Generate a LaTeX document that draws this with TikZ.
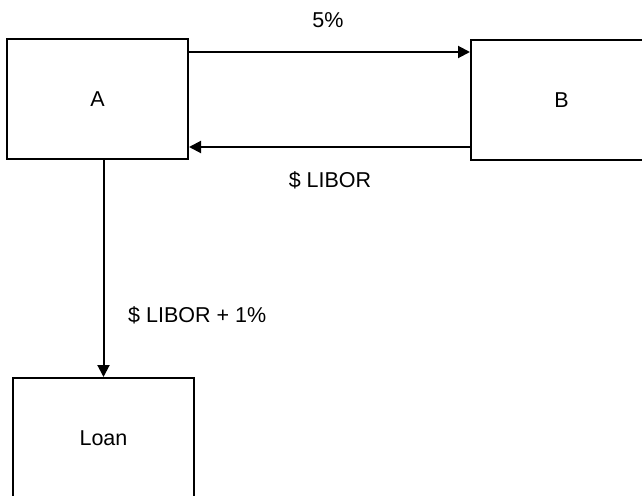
\documentclass[tikz,border=0pt]{standalone}
\usepackage{fontspec}
\setmainfont{Liberation Sans}
\usetikzlibrary{positioning}
\usetikzlibrary{arrows.meta}
\tikzset{party/.style={draw, line width=2pt, minimum width=181pt, minimum height=120pt, inner sep=0pt, font=\fontsize{21.5}{25}\selectfont},
	flow/.style={line width=2pt, -{Triangle[length=12pt,width=12pt]}},
	rate/.style={font=\fontsize{21.5}{25}\selectfont, inner sep=0pt}}
\begin{document}
\begin{tikzpicture}[x=1pt, y=-1pt]
	\useasboundingbox (0,0) rectangle (642,495);
	
	% the three parties
	\node[party] (A) at (97.5,99) {A};
	\node[party] (B) at (561.5,100) {B};
	\node[party] (Loan) at (103.5,438) {Loan};
	
	% swap payments
	\draw[flow] ([yshift=47pt]A.east) -- ([yshift=47pt]A.east -| B.west);
	\draw[flow] ([yshift=-48pt]A.east -| B.west) -- ([yshift=-48pt]A.east);
	
	% loan payment
	\draw[flow] (Loan.north |- A.south) -- (Loan.north);
	
	\node[rate] (fixed) at (328,20) {5\%};
	\node[rate] (libor) at (330,180) {\$ LIBOR};
	\node[rate, anchor=west] (liborplus) at (128,315) {\$ LIBOR + 1\%};
	
\end{tikzpicture}
\end{document}
